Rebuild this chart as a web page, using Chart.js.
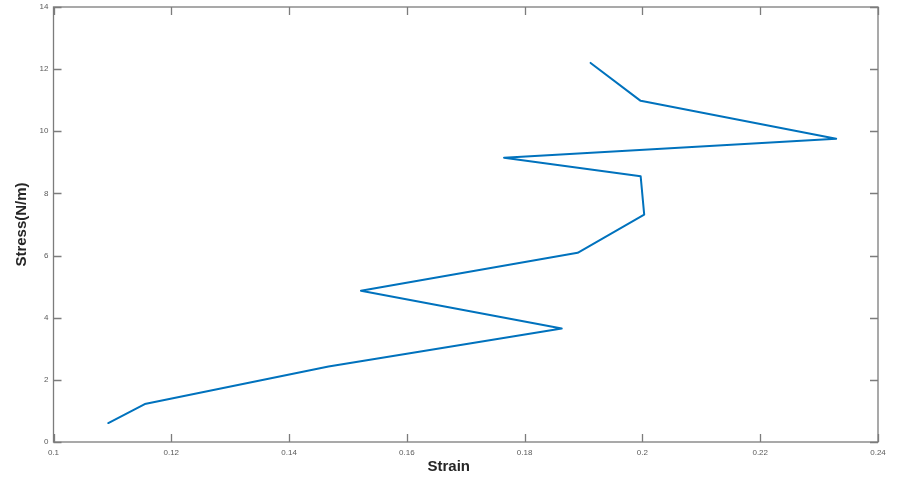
<!DOCTYPE html>
<html>
<head>
<meta charset="utf-8">
<title>Stress vs Strain</title>
<script src="https://cdn.jsdelivr.net/npm/chart.js@4"></script>
<style>
  html, body { margin: 0; padding: 0; background: #ffffff; }
  #wrap { width: 901px; height: 477px; position: relative; }
</style>
</head>
<body>
<div id="wrap"><canvas id="c" width="901" height="477"></canvas></div>
<script>
// Measured strain / stress pairs, in recording order
const strain = [0.1093, 0.1155, 0.1467, 0.1863, 0.1522, 0.1890, 0.2003, 0.1997, 0.1765, 0.2329, 0.1997, 0.1912];
const stress = [0.61, 1.22, 2.43, 3.65, 4.87, 6.09, 7.32, 8.55, 9.15, 9.76, 10.98, 12.20];

// Axis ranges and tick steps
const xRange = [0.1, 0.24];
const xStep = 0.02;
const yRange = [0, 14];
const yStep = 2;

const xTitle = 'Strain';
const yTitle = 'Stress(N/m)';

const points = strain.map((s, i) => ({ x: s, y: stress[i] }));

const AXIS_COLOR = '#7c7c7c';
const LABEL_COLOR = '#5a5a5a';
const TICK_LEN = 8;

// Box with inward ticks on all four sides, plus axis titles
const boxPlugin = {
  id: 'boxTicks',
  afterDraw(chart) {
    const { ctx, chartArea: a, scales } = chart;
    ctx.save();
    ctx.strokeStyle = AXIS_COLOR;
    ctx.lineWidth = 1.3;
    ctx.strokeRect(a.left, a.top, a.right - a.left, a.bottom - a.top);
    ctx.beginPath();
    scales.x.ticks.forEach(t => {
      const px = Math.round(scales.x.getPixelForValue(t.value)) + 0.5;
      ctx.moveTo(px, a.bottom); ctx.lineTo(px, a.bottom - TICK_LEN);
      ctx.moveTo(px, a.top); ctx.lineTo(px, a.top + TICK_LEN);
    });
    scales.y.ticks.forEach(t => {
      const py = Math.round(scales.y.getPixelForValue(t.value)) + 0.5;
      ctx.moveTo(a.left, py); ctx.lineTo(a.left + TICK_LEN, py);
      ctx.moveTo(a.right, py); ctx.lineTo(a.right - TICK_LEN, py);
    });
    ctx.stroke();

    ctx.fillStyle = '#262626';
    ctx.font = 'bold 15px "Liberation Sans", Arial, sans-serif';
    ctx.textAlign = 'center';
    ctx.textBaseline = 'middle';
    ctx.fillText(xTitle, (a.left + a.right) / 2 - 17, 467);
    ctx.translate(22, (a.top + a.bottom) / 2);
    ctx.rotate(-Math.PI / 2);
    ctx.fillText(yTitle, 0, 0);
    ctx.restore();
  }
};

new Chart(document.getElementById('c'), {
  type: 'scatter',
  data: {
    datasets: [{
      data: points,
      showLine: true,
      borderColor: '#0072BD',
      borderWidth: 2,
      borderJoinStyle: 'round',
      borderCapStyle: 'round',
      pointRadius: 0,
      pointHoverRadius: 0,
      tension: 0,
      fill: false
    }]
  },
  options: {
    responsive: false,
    animation: false,
    events: [],
    layout: { padding: { top: 7, right: 23, left: 0, bottom: 0 } },
    plugins: {
      legend: { display: false },
      tooltip: { enabled: false },
      title: { display: false }
    },
    scales: {
      x: {
        type: 'linear',
        min: xRange[0],
        max: xRange[1],
        grid: { display: false, drawTicks: false },
        border: { display: false },
        afterFit(scale) {
          scale.height = 35;
          scale.paddingLeft = 0;
          scale.paddingRight = 0;
        },
        ticks: {
          stepSize: xStep,
          padding: 6,
          maxRotation: 0,
          color: LABEL_COLOR,
          font: { size: 8, family: '"Liberation Sans", Arial, sans-serif' },
          callback: v => parseFloat(v.toFixed(2)).toString()
        }
      },
      y: {
        type: 'linear',
        min: yRange[0],
        max: yRange[1],
        grid: { display: false, drawTicks: false },
        border: { display: false },
        afterFit(scale) {
          scale.width = 53.5;
          scale.paddingTop = 0;
          scale.paddingBottom = 0;
        },
        ticks: {
          stepSize: yStep,
          padding: 5,
          color: LABEL_COLOR,
          font: { size: 8, family: '"Liberation Sans", Arial, sans-serif' }
        }
      }
    }
  },
  plugins: [boxPlugin]
});
</script>
</body>
</html>
